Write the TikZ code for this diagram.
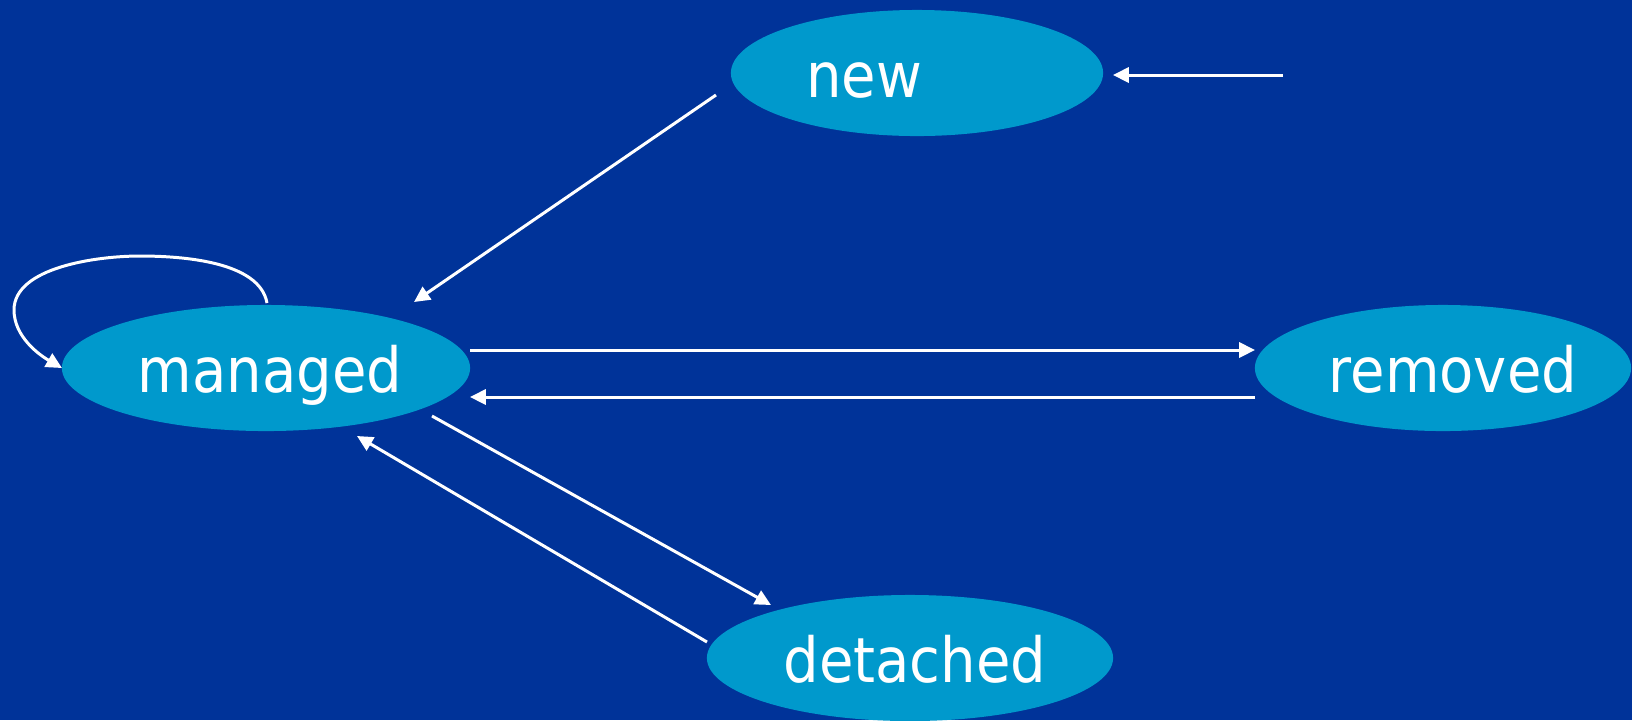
\documentclass[tikz,border=0pt]{standalone}
\usepackage{fontspec}
\setmainfont{DejaVu Sans Condensed}
\usetikzlibrary{shapes.geometric,arrows.meta,calc}
\definecolor{bgblue}{HTML}{003399}
\definecolor{statefill}{HTML}{0099CC}
\begin{document}
\begin{tikzpicture}[x=0.01cm,y=-0.01cm,
  state/.style={ellipse,fill=statefill,inner sep=0pt,minimum height=1.26cm},
  statetext/.style={inner sep=0pt,text=white,
    font=\fontsize{17.7pt}{20pt}\selectfont,text height=0.48cm,text depth=0pt},
  trans/.style={draw=white,line width=0.85pt,
    -{Triangle[length=4.5pt,width=4.3pt]}}]
  % background
  \fill[bgblue] (0,0) rectangle (1632,720);
  \useasboundingbox (0,0) rectangle (1632,720);

  % states
  \node[state,minimum width=3.72cm] (new) at (917,73) {};
  \node[state,minimum width=4.08cm] (managed) at (266,368) {};
  \node[state,minimum width=3.76cm] (removed) at (1443,368) {};
  \node[state,minimum width=4.06cm] (detached) at (910,658) {};

  % state names
  \node[statetext] (newlabel) at ($(new.center)+(-53,0)$) {new};
  \node[statetext] (managedlabel) at ($(managed.center)+(4,0)$) {managed};
  \node[statetext] (removedlabel) at ($(removed.center)+(10,0)$) {removed};
  \node[statetext] (detachedlabel) at ($(detached.center)+(5,0)$) {detached};

  % entry point
  \coordinate (entry) at (1283,75);
  \draw[trans] (entry) -- ($(new.center)+(196,2)$);

  % transitions
  \draw[trans] ($(new.center)+(-201,22)$) -- ($(managed.center)+(148,-66)$);
  \draw[trans] ($(managed.center)+(204,-18)$) -- ($(removed.center)+(-188,-18)$);
  \draw[trans] ($(removed.center)+(-188,29)$) -- ($(managed.center)+(204,29)$);
  \draw[trans] ($(managed.center)+(166,48)$) -- ($(detached.center)+(-139,-53)$);
  \draw[trans] ($(detached.center)+(-203,-16)$) -- ($(managed.center)+(91,68)$);

  % self loop on managed
  \draw[trans] ($(managed.center)+(1,-65)$)
    to[out=100,in=0,looseness=0.8] (140,256)
    to[out=180,in=90,looseness=0.8] (14,310)
    to[out=-90,in=150,looseness=0.9] ($(managed.center)+(-204,0)$);
\end{tikzpicture}
\end{document}
